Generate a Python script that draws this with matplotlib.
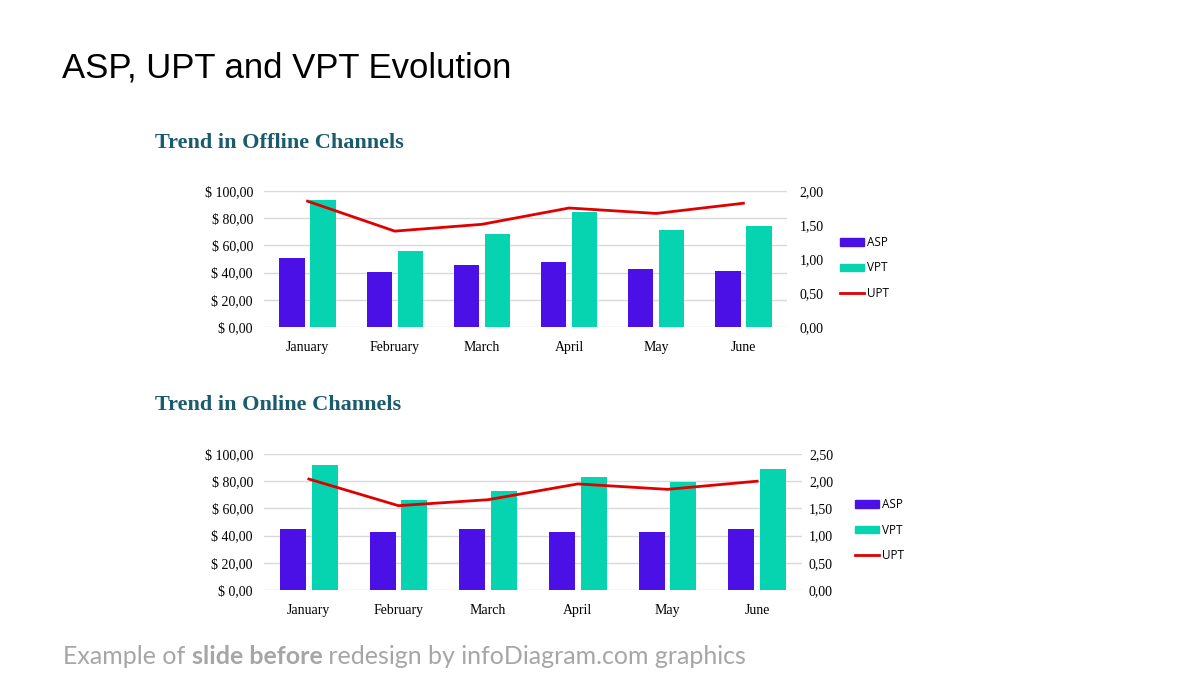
import numpy as np
import matplotlib.pyplot as plt
from matplotlib.lines import Line2D
from matplotlib.patches import Patch
from matplotlib.text import Annotation

months = ['January', 'February', 'March', 'April', 'May', 'June']

# offline channels
off_asp = [50.5, 40.1, 45.8, 48.0, 42.4, 40.9]
off_vpt = [93.6, 56.2, 68.7, 84.5, 71.4, 74.1]
off_upt = [1.85, 1.41, 1.51, 1.75, 1.67, 1.82]

# online channels
on_asp = [45.2, 43.0, 44.5, 43.0, 43.0, 44.5]
on_vpt = [92.1, 66.3, 72.7, 83.3, 79.6, 88.7]
on_upt = [2.04, 1.55, 1.66, 1.95, 1.85, 2.00]

left_ticks = [0, 20, 40, 60, 80, 100]
right_ticks_off = [0, 0.5, 1.0, 1.5, 2.0]
right_ticks_on = [0, 0.5, 1.0, 1.5, 2.0, 2.5]

C_ASP = '#4A10E6'
C_VPT = '#06D3B0'
C_UPT = '#E00000'
C_SUB = '#1B5B6E'
SERIF = 'Liberation Serif'


def comma(v):
    return f'{v:.2f}'.replace('.', ',')


def draw(fig, rect, asp, vpt, upt, rticks, rpad, legend_x, legend_y):
    ax = fig.add_axes(rect)
    x = np.arange(len(months))
    w = 0.29
    ax.bar(x - 0.178, asp, w, color=C_ASP, zorder=2)
    ax.bar(x + 0.178, vpt, w, color=C_VPT, zorder=2)
    ax.set_xlim(-0.5, len(months) - 0.5)
    ax.set_ylim(0, 100)
    ax.set_yticks(left_ticks)
    ax.set_yticklabels(['$ ' + comma(v) for v in left_ticks], family=SERIF, fontsize=10)
    ax.set_xticks(x)
    ax.set_xticklabels(months, family=SERIF, fontsize=10)
    ax.tick_params(axis='y', length=0, pad=8)
    ax.tick_params(axis='x', length=0, pad=10)
    ax.grid(axis='y', color='#D9D9D9', lw=1, zorder=0)
    for s in ax.spines.values():
        s.set_visible(False)

    ax2 = ax.twinx()
    ax2.plot(x, upt, color=C_UPT, lw=2, zorder=3)
    ax2.set_ylim(0, rticks[-1])
    ax2.set_yticks(rticks)
    ax2.set_yticklabels([comma(v) for v in rticks], family=SERIF, fontsize=10)
    ax2.tick_params(length=0, pad=rpad)
    for s in ax2.spines.values():
        s.set_visible(False)

    handles = [Patch(color=C_ASP, label='ASP'), Patch(color=C_VPT, label='VPT'),
               Line2D([], [], color=C_UPT, lw=2, label='UPT')]
    fig.legend(handles=handles, loc='center left', bbox_to_anchor=(legend_x, legend_y),
               frameon=False, prop={'family': 'Open Sans', 'size': 8.5},
               handlelength=2.0, handleheight=0.6, handletextpad=0.3, labelspacing=1.05,
               borderpad=0, borderaxespad=0)
    return ax


fig = plt.figure(figsize=(12, 6.75), dpi=100)
W, H = 1200, 675

fig.text(62 / W, 1 - 68 / H, 'ASP, UPT and VPT Evolution', family='Liberation Sans',
         fontsize=25, va='center', ha='left', color='black')

fig.text(155 / W, 1 - 143 / H, 'Trend in Offline Channels', family=SERIF,
         fontsize=16, weight='bold', color=C_SUB, va='center', ha='left')
fig.text(155 / W, 1 - 405 / H, 'Trend in Online Channels', family=SERIF,
         fontsize=16, weight='bold', color=C_SUB, va='center', ha='left')

draw(fig, [264 / W, 1 - 327 / H, (787 - 264) / W, 136 / H],
     off_asp, off_vpt, off_upt, right_ticks_off, 9, 840 / W, 1 - 268 / H)
draw(fig, [264 / W, 1 - 590 / H, (802 - 264) / W, 136 / H],
     on_asp, on_vpt, on_upt, right_ticks_on, 5, 855 / W, 1 - 530 / H)

# footer in three pieces so the bold part keeps the same family
foot = dict(family='Lato', fontsize=18, color='#A6A6A6', va='bottom', ha='left')
t1 = fig.text(63 / W, 1 - 668 / H, 'Example of ', **foot)
t2 = Annotation('slide before', xy=(1, 0), xycoords=t1, weight='bold', **foot)
fig.add_artist(t2)
t3 = Annotation(' redesign by infoDiagram.com graphics', xy=(1, 0), xycoords=t2, **foot)
fig.add_artist(t3)

fig.savefig('out.png', dpi=100)
